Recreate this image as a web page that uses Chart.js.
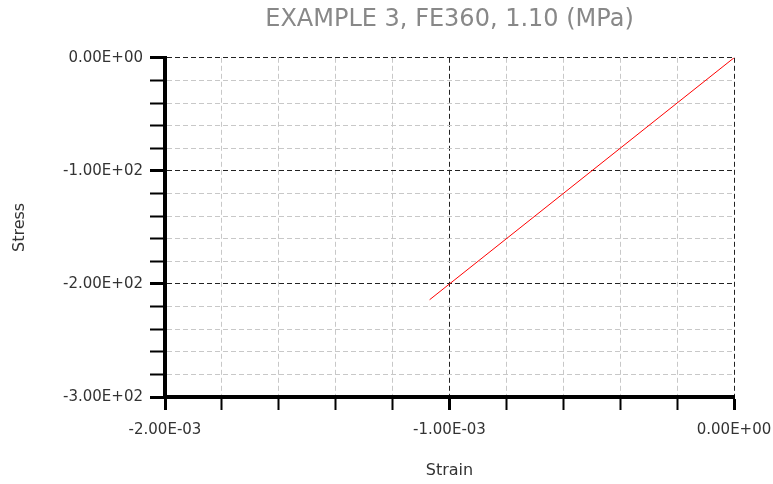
<!DOCTYPE html>
<html>
<head>
<meta charset="utf-8">
<script src="https://cdn.jsdelivr.net/npm/chart.js@4"></script>
<style>
  html, body { margin: 0; padding: 0; background: #fff; }
  #wrap { width: 773px; height: 484px; }
</style>
</head>
<body>
<div id="wrap"><canvas id="stressChart"></canvas></div>
<script>
// Strain / stress pairs
var strain = [0, -1.07e-3];
var stress = [0, -214];

// Axis ranges and tick steps
var xRange = [-2e-3, 0];
var yRange = [-300, 0];
var xStep = 2e-4, xMajor = 1e-3;
var yStep = 20, yMajor = 100;

function sci(v) {
  if (Math.abs(v) < 1e-12) v = 0;
  var parts = v.toExponential(2).split('e');
  var exp = parts[1];
  var sign = exp[0] === '-' ? '-' : '+';
  var digits = exp.replace(/^[+-]/, '');
  if (digits.length < 2) digits = '0' + digits;
  return parts[0] + 'E' + sign + digits;
}

function isMajor(v, major) {
  var r = v / major;
  return Math.abs(r - Math.round(r)) < 1e-6;
}

var points = strain.map(function (x, i) { return { x: x, y: stress[i] }; });

var tickFont = { family: 'DejaVu Sans', size: 15 };
var titleFont = { family: 'DejaVu Sans', size: 16 };

var ctx = document.getElementById('stressChart').getContext('2d');
var chart = new Chart(ctx, {
  type: 'scatter',
  data: {
    datasets: [{
      data: points,
      showLine: true,
      borderColor: '#ff0000',
      borderWidth: 1,
      pointRadius: 0,
      fill: false
    }]
  },
  options: {
    responsive: true,
    maintainAspectRatio: false,
    animation: false,
    layout: { padding: { left: 0, right: 39, top: 0, bottom: 0 } },
    plugins: {
      legend: { display: false },
      tooltip: { enabled: false },
      title: {
        display: true,
        fullSize: false,
        text: 'EXAMPLE 3, FE360, 1.10 (MPa)',
        color: '#888888',
        font: { family: 'DejaVu Sans', size: 24, weight: 'normal' },
        padding: { top: 5, bottom: 24 }
      }
    },
    scales: {
      x: {
        type: 'linear',
        min: xRange[0],
        max: xRange[1],
        afterFit: function (scale) {
          scale.height = 87;
          scale.paddingRight = 0;
          scale.paddingLeft = 0;
        },
        ticks: {
          stepSize: xStep,
          autoSkip: false,
          maxRotation: 0,
          minRotation: 0,
          padding: 11,
          color: '#333333',
          font: tickFont,
          callback: function (v) { return isMajor(v, xMajor) ? sci(v) : ''; }
        },
        grid: {
          color: function (c) { return isMajor(c.tick.value, xMajor) ? '#222222' : '#c8c8c8'; },
          lineWidth: 1,
          tickLength: 13,
          tickColor: '#000000',
          tickWidth: function (c) { return isMajor(c.tick.value, xMajor) ? 3 : 2; },
          tickBorderDash: []
        },
        border: { display: true, color: '#000000', width: 4, dash: [5, 3] },
        title: { display: true, text: 'Strain', color: '#333333', font: titleFont, padding: { top: 0, bottom: 4 } }
      },
      y: {
        type: 'linear',
        min: yRange[0],
        max: yRange[1],
        afterFit: function (scale) { scale.width = 165; },
        ticks: {
          stepSize: yStep,
          autoSkip: false,
          padding: 7,
          color: '#333333',
          font: tickFont,
          callback: function (v) { return isMajor(v, yMajor) ? sci(v) : ''; }
        },
        grid: {
          color: function (c) { return isMajor(c.tick.value, yMajor) ? '#222222' : '#c8c8c8'; },
          lineWidth: 1,
          tickLength: 15,
          tickColor: '#000000',
          tickWidth: function (c) { return isMajor(c.tick.value, yMajor) ? 3 : 2; },
          tickBorderDash: []
        },
        border: { display: true, color: '#000000', width: 4, dash: [5, 3] },
        title: { display: true, text: 'Stress', color: '#333333', font: titleFont, padding: { top: 10, bottom: 0 } }
      }
    }
  }
});
</script>
</body>
</html>
